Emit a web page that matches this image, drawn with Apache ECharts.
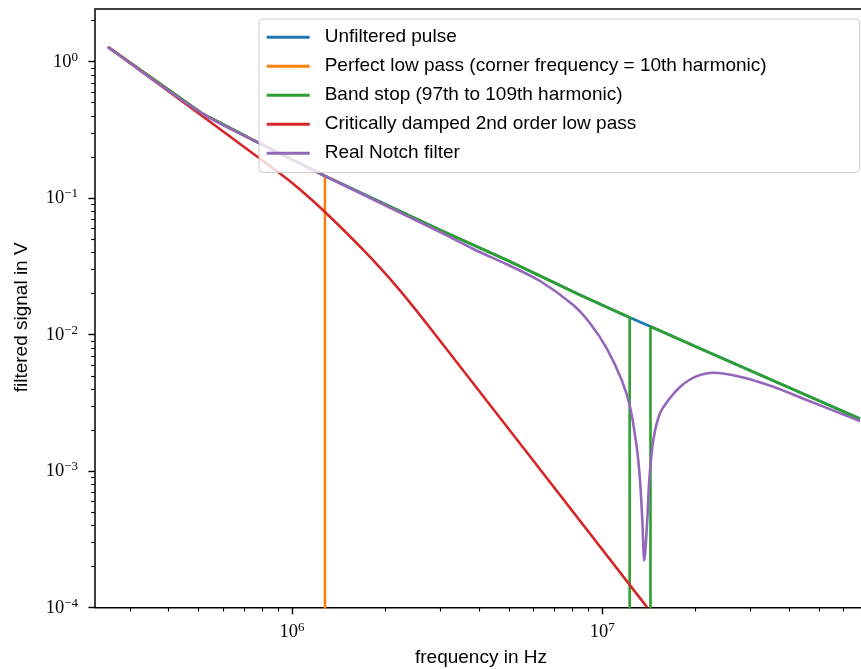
<!DOCTYPE html>
<html>
<head>
<meta charset="utf-8">
<script src="https://cdn.jsdelivr.net/npm/echarts@6.0.0/dist/echarts.min.js"></script>
<style>
  html, body { margin: 0; padding: 0; background: #fff; }
  #chart { width: 861px; height: 669px; }
</style>
</head>
<body>
<div id="chart"></div>
<script>
// harmonic frequencies in Hz and amplitudes in V
const envFreq = [2.553e5, 5.129e5, 7.656e5, 1.277e6, 3.00e6, 4.92e6, 8.48e6, 1.225e7, 1.430e7, 2.065e7, 6.77e7];
const unfiltered = [1.281, 0.418, 0.260, 0.1454, 0.0585, 0.03526, 0.01953, 0.01337, 0.01147, 0.00792, 0.00242];

const lowPassFreq = [2.553e5, 5.129e5, 7.656e5, 1.277e6, 1.277e6];
const lowPass = [1.281, 0.418, 0.260, 0.1454, 0];

const bandStopFreq = [2.553e5, 5.129e5, 7.656e5, 1.277e6, 3.00e6, 4.92e6, 8.48e6, 1.225e7, 1.225e7, 1.430e7, 1.430e7, 2.065e7, 6.77e7];
const bandStop = [1.281, 0.418, 0.260, 0.1454, 0.0585, 0.03526, 0.01953, 0.01337, 0, 0, 0.01147, 0.00792, 0.00242];

const dampedFreq = [2.553e5, 9.148e5, 1.0612e6, 1.2775e6, 1.6975e6, 2.175e6, 2.820e6, 1.3934e7];
const damped = [1.281, 0.1517, 0.1158, 0.07923, 0.04174, 0.02247, 0.01081, 1.010e-4];

const notchFreq = [2.553e5, 5.129e5, 7.656e5, 1.277e6, 3.00e6, 3.840e6, 4.92e6, 6.299e6, 8.063e6, 9.128e6,
  1.0333e7, 1.1549e7, 1.2284e7, 1.2906e7, 1.3227e7, 1.3455e7, 1.3657e7, 1.3964e7, 1.4174e7, 1.4602e7,
  1.5346e7, 1.6526e7, 1.7799e7, 1.9169e7, 2.065e7, 2.279e7, 2.778e7, 3.557e7, 4.558e7, 6.77e7];
const notch = [1.281, 0.418, 0.260, 0.1454, 0.0565, 0.04244, 0.03280, 0.02473, 0.01650, 0.01212,
  0.00795, 0.004657, 0.002969, 0.001512, 8.66e-4, 4.41e-4, 2.217e-4, 4.41e-4, 8.66e-4, 0.001693,
  0.002655, 0.003438, 0.004138, 0.004695, 0.005067, 0.005267, 0.004925, 0.004159, 0.003323, 0.002332];

const names = [
  'Unfiltered pulse',
  'Perfect low pass (corner frequency = 10th harmonic)',
  'Band stop (97th to 109th harmonic)',
  'Critically damped 2nd order low pass',
  'Real Notch filter'
];
const colors = ['#1f77b4', '#ff7f0e', '#2ca02c', '#d62728', '#9467bd'];
const smoothing = [0, 0, 0, 0.3, 0.3];

// ticks
const xMajor = [1e6, 1e7];
const yMajor = [1e-4, 1e-3, 1e-2, 1e-1, 1];
const minorSteps = [2, 3, 4, 5, 6, 7, 8, 9];
const xMinorDecades = [1e5, 1e6, 1e7];
const yMinorDecades = [1e-4, 1e-3, 1e-2, 1e-1, 1];

const X_MIN = 2.318e5, X_MAX = 7.13e7;
const Y_MIN = 1e-4, Y_MAX = 2.43;
const ZERO = 1e-12; // zero amplitude -> far below the log axis, clipped

function pairs(freq, vals) {
  return freq.map((f, i) => [f, vals[i] > 0 ? vals[i] : ZERO]);
}
function minors(decades, lo, hi) {
  const out = [];
  decades.forEach(d => minorSteps.forEach(k => {
    const v = k * d;
    if (v >= lo && v <= hi) out.push(v);
  }));
  return out;
}
function powLabel(v) {
  const e = Math.round(Math.log10(v));
  return '{b|10}{s|' + String(e).replace('-', '\u2212') + '}';
}

const serif = "'Liberation Serif', 'DejaVu Serif', serif";
const sans = "'Liberation Sans', 'DejaVu Sans', sans-serif";
const powRich = {
  b: { fontFamily: serif, fontSize: 18.5, lineHeight: 22, color: '#000' },
  s: { fontFamily: serif, fontSize: 13, lineHeight: 15, verticalAlign: 'top', color: '#000' }
};

const chart = echarts.init(document.getElementById('chart'));

const lines = [
  pairs(envFreq, unfiltered),
  pairs(lowPassFreq, lowPass),
  pairs(bandStopFreq, bandStop),
  pairs(dampedFreq, damped),
  pairs(notchFreq, notch)
];

chart.setOption({
  animation: false,
  backgroundColor: '#fff',
  grid: {
    left: 95, right: -6, top: 9, bottom: 61.3,
    show: true, borderColor: '#000', borderWidth: 1.5,
    backgroundColor: 'transparent',
    outerBoundsMode: 'none'
  },
  legend: {
    orient: 'vertical',
    left: 259, top: 19,
    padding: [8.7, 93, 9.7, 7.7],
    itemWidth: 43, itemHeight: 3, itemGap: 10,
    icon: 'rect',
    backgroundColor: 'rgba(255,255,255,0.8)',
    borderColor: '#cccccc', borderWidth: 1, borderRadius: 4,
    textStyle: { fontFamily: sans, fontSize: 19, lineHeight: 19, color: '#000', padding: [0, 0, 0, 10] },
    selectedMode: false,
    data: names
  },
  xAxis: [
    {
      type: 'log', position: 'bottom', min: X_MIN, max: X_MAX,
      axisLine: { show: false }, splitLine: { show: false },
      axisTick: { customValues: xMajor, length: 6.6, lineStyle: { color: '#000', width: 1.4 } },
      axisLabel: { customValues: xMajor, formatter: powLabel, margin: 13.5, rich: powRich },
      name: 'frequency in Hz', nameLocation: 'middle', nameGap: 41,
      nameTextStyle: { fontFamily: sans, fontSize: 19, color: '#000' }
    },
    {
      type: 'log', position: 'bottom', min: X_MIN, max: X_MAX,
      axisLine: { show: false }, splitLine: { show: false }, axisLabel: { show: false },
      axisTick: { customValues: minors(xMinorDecades, X_MIN, X_MAX), length: 3.8, lineStyle: { color: '#000', width: 1.1 } }
    }
  ],
  yAxis: [
    {
      type: 'log', position: 'left', min: Y_MIN, max: Y_MAX,
      axisLine: { show: false }, splitLine: { show: false },
      axisTick: { customValues: yMajor, length: 6.6, lineStyle: { color: '#000', width: 1.4 } },
      axisLabel: { customValues: yMajor, formatter: powLabel, margin: 17, rich: powRich },
      name: 'filtered signal in V', nameLocation: 'middle', nameGap: 64,
      nameTextStyle: { fontFamily: sans, fontSize: 19, color: '#000', padding: [0, 18, 0, 0] }
    },
    {
      type: 'log', position: 'left', min: Y_MIN, max: Y_MAX,
      axisLine: { show: false }, splitLine: { show: false }, axisLabel: { show: false },
      axisTick: { customValues: minors(yMinorDecades, Y_MIN, Y_MAX), length: 3.8, lineStyle: { color: '#000', width: 1.1 } }
    }
  ],
  series: names.map((name, i) => ({
    name: name,
    type: 'line',
    xAxisIndex: 0,
    yAxisIndex: 0,
    data: lines[i],
    symbol: 'none',
    showSymbol: false,
    smooth: smoothing[i],
    clip: true,
    color: colors[i],
    lineStyle: { color: colors[i], width: 2.6 },
    emphasis: { disabled: true }
  }))
});
</script>
</body>
</html>
